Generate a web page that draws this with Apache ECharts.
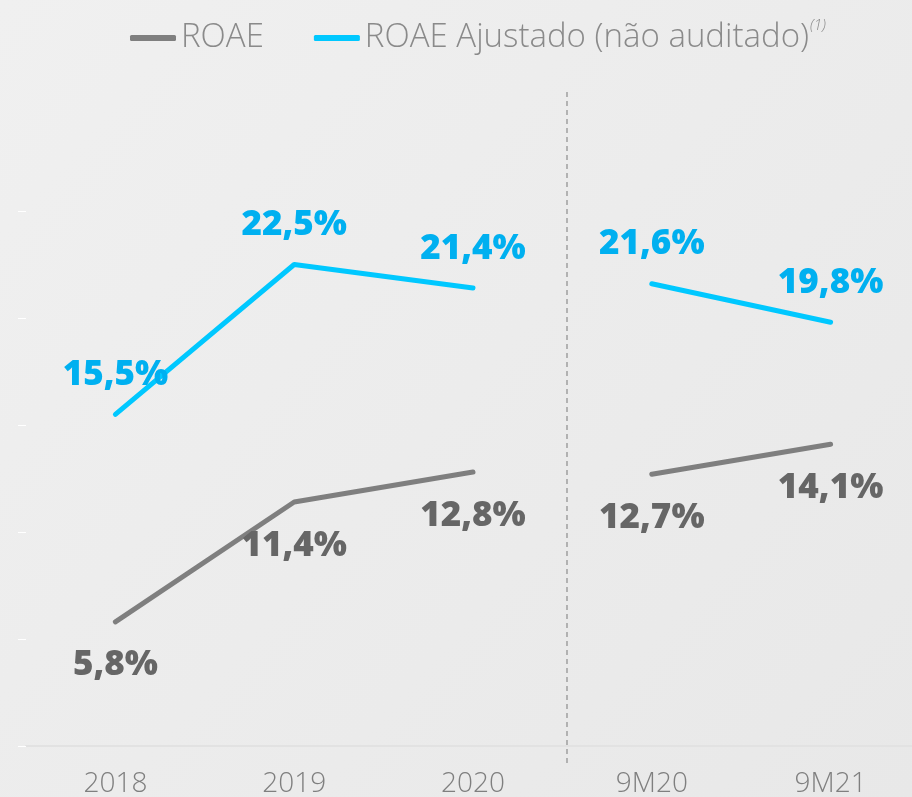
<!DOCTYPE html>
<html><head><meta charset="utf-8">
<script src="https://cdn.jsdelivr.net/npm/echarts@6/dist/echarts.min.js"></script>
<style>html,body{margin:0;padding:0;background:#ececec}#c{width:912px;height:797px}</style>
</head><body><div id="c"></div>
<script>
const categories = ['2018','2019','2020','9M20','9M21'];
const roaeAnnual = [5.8, 11.4, 12.8, null, null];
const roaeNine = [null, null, null, 12.7, 14.1];
const adjAnnual = [15.5, 22.5, 21.4, null, null];
const adjNine = [null, null, null, 21.6, 19.8];
const nameRoae = 'ROAE';
const nameAdj = 'ROAE Ajustado (não auditado)';

const chart = echarts.init(document.getElementById('c'), null, {renderer:'canvas'});
const fmt = p => (typeof p.value === 'number') ? p.value.toFixed(1).replace('.', ',') + '%' : '';
const GRAY = '#7f7f7f', GRAYL = '#666666', BLUE = '#00c8ff', BLUEL = '#00b0f0';
function mk(name, data, color, lcolor, pos, dist){
  return {name, type:'line', data, symbol:'circle', symbolSize:0, showSymbol:true, connectNulls:false,
    lineStyle:{color, width:5, cap:'round', join:'round'}, itemStyle:{color},
    label:{show:true, fontFamily:'Open Sans', fontWeight:800, fontSize:35, formatter:fmt,
      color:lcolor, position:pos, distance:dist},
    emphasis:{disabled:true}};
}
chart.setOption({
  backgroundColor: new echarts.graphic.LinearGradient(0,0,1,1,[{offset:0,color:'#f0f0f0'},{offset:1,color:'#e8e8e8'}]),
  animation:false,
  legend:{left:125, top:13, icon:'roundRect', itemWidth:46, itemHeight:6, itemGap:50,
    data:[nameRoae, nameAdj],
    formatter: n => n === nameAdj ? '{a|'+n+'}{s|(1)}' : '{a|'+n+'}',
    textStyle:{color:'#8a8a8a', fontFamily:'Open Sans', fontWeight:300, fontSize:33,
      rich:{a:{color:'#8a8a8a', fontFamily:'Open Sans', fontWeight:300, fontSize:33, lineHeight:40},
            s:{color:'#8a8a8a', fontFamily:'Open Sans', fontStyle:'italic', fontWeight:300, fontSize:15, verticalAlign:'top', padding:[0,0,24,1]}}}},
  grid:{left:26, top:211, right:-8, bottom:51, outerBoundsMode:'none', containLabel:false},
  xAxis:{type:'category', data:categories, boundaryGap:true,
    axisLine:{lineStyle:{color:'#e2e2e2', width:2}}, axisTick:{show:false},
    axisLabel:{color:'#7f7f7f', fontFamily:'Open Sans', fontWeight:300, fontSize:28, margin:24}},
  yAxis:{type:'value', min:0, max:25, interval:5, splitLine:{show:false},
    axisLine:{show:false}, axisLabel:{show:false},
    axisTick:{show:true, length:8, lineStyle:{color:'#ffffff', width:1}}},
  graphic:[{type:'line', shape:{x1:567, y1:92, x2:567, y2:766}, silent:true,
    style:{stroke:'#8c8c8c', lineWidth:1.2, lineDash:[5,4]}}],
  series:[
    mk(nameRoae, roaeAnnual, GRAY, GRAYL, 'bottom', 26),
    mk(nameRoae, roaeNine, GRAY, GRAYL, 'bottom', 26),
    mk(nameAdj, adjAnnual, BLUE, BLUEL, 'top', 22),
    mk(nameAdj, adjNine, BLUE, BLUEL, 'top', 22)
  ]
});
</script></body></html>
